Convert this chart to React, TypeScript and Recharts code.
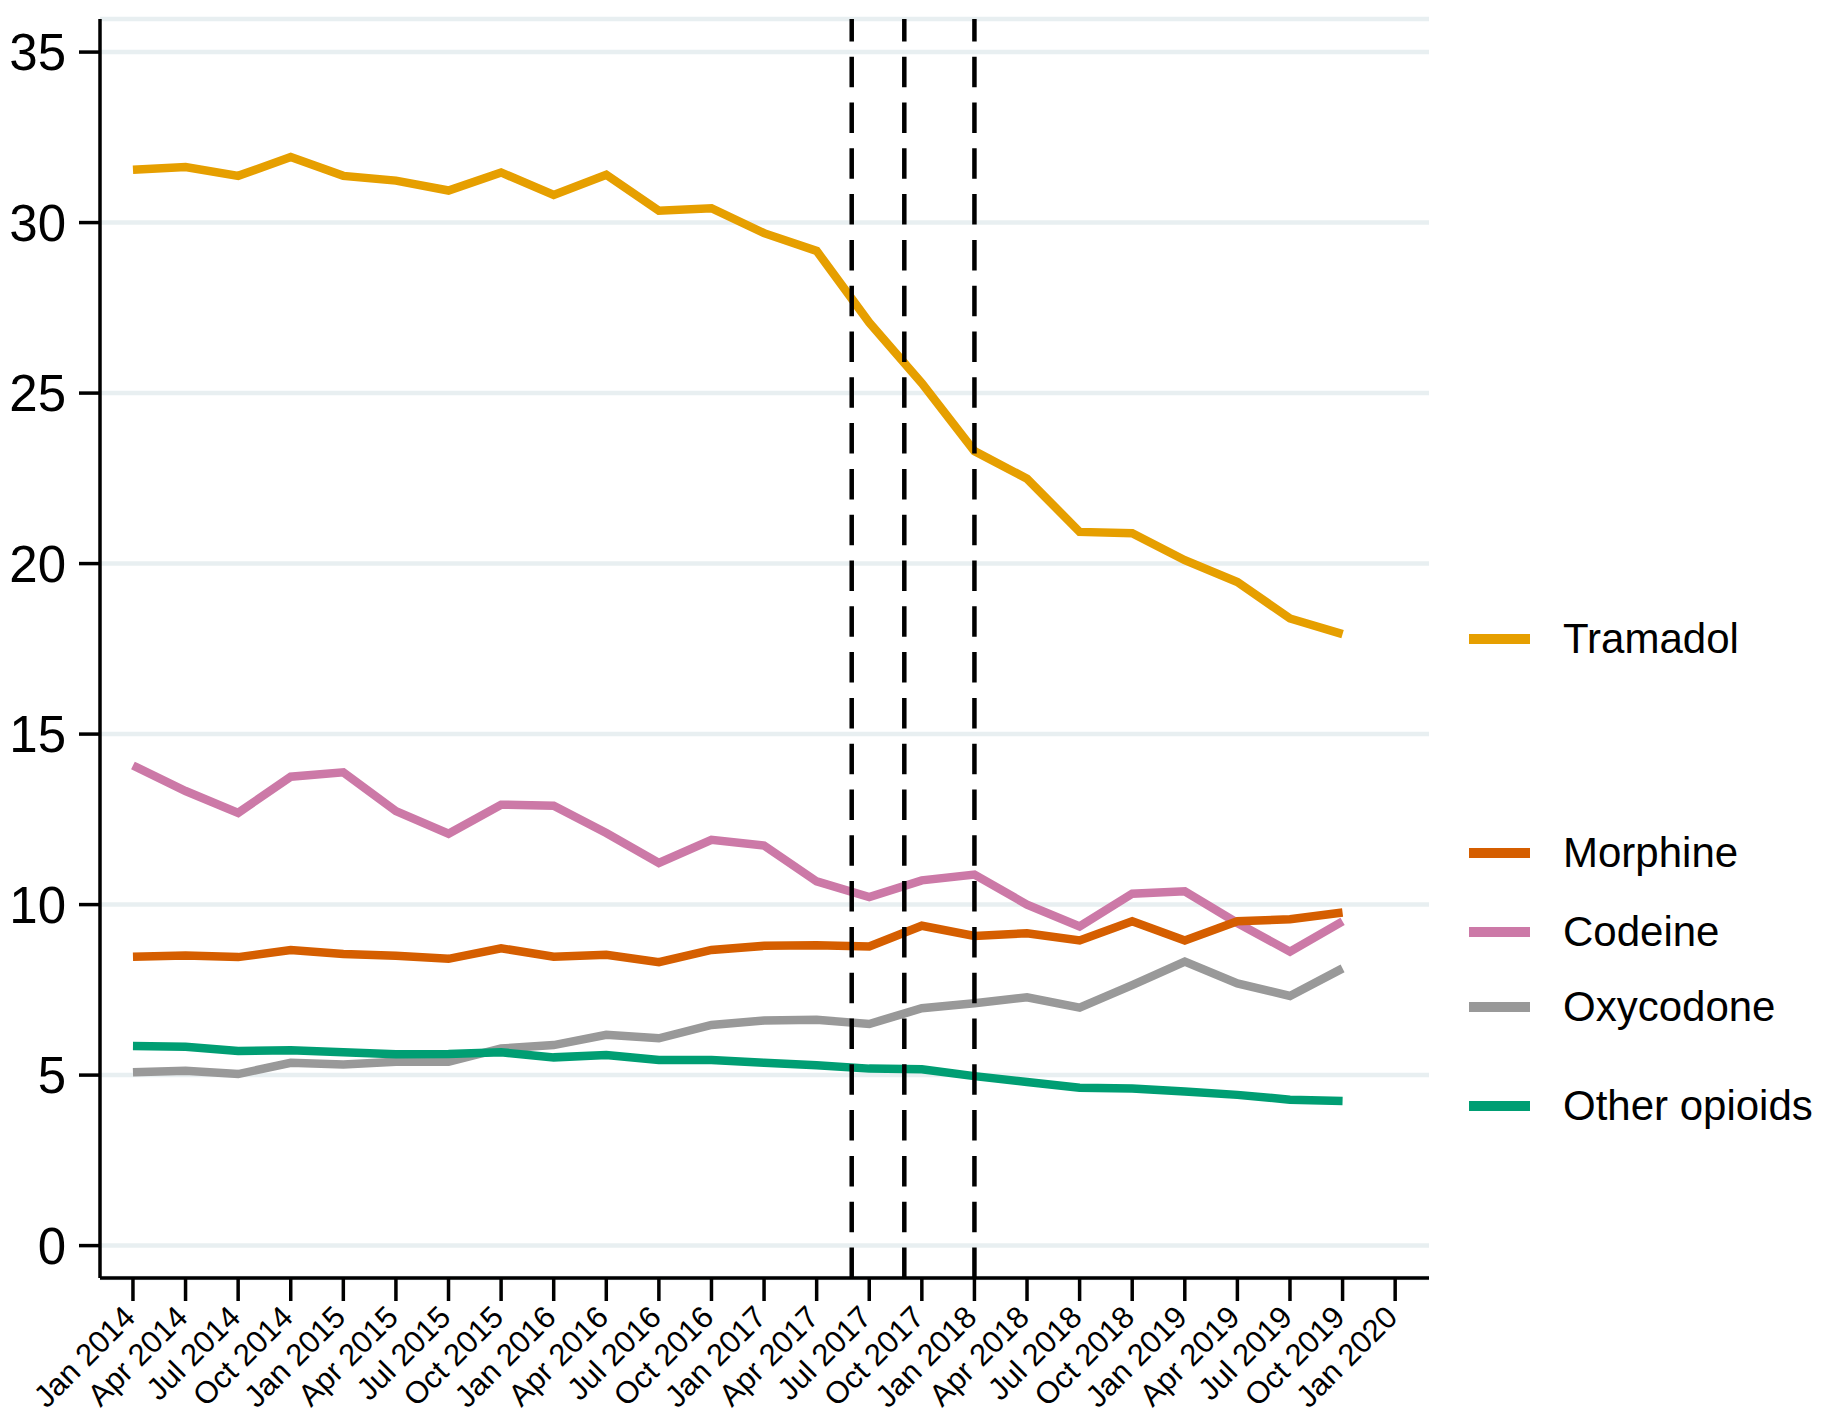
import React from 'react';
import { LineChart, Line, XAxis, YAxis, CartesianGrid, ReferenceLine, Legend } from 'recharts';

const quarters = [
  'Jan 2014', 'Apr 2014', 'Jul 2014', 'Oct 2014', 'Jan 2015', 'Apr 2015', 'Jul 2015', 'Oct 2015',
  'Jan 2016', 'Apr 2016', 'Jul 2016', 'Oct 2016', 'Jan 2017', 'Apr 2017', 'Jul 2017', 'Oct 2017',
  'Jan 2018', 'Apr 2018', 'Jul 2018', 'Oct 2018', 'Jan 2019', 'Apr 2019', 'Jul 2019', 'Oct 2019',
];
// months since Jan 2014
const monthIndex = [0, 3, 6, 9, 12, 15, 18, 21, 24, 27, 30, 33, 36, 39, 42, 45, 48, 51, 54, 57, 60, 63, 66, 69];

const tramadol = [31.55, 31.63, 31.37, 31.92, 31.37, 31.23, 30.94, 31.47, 30.81, 31.4, 30.35, 30.42, 29.69, 29.17, 27.07, 25.29, 23.3, 22.49, 20.93, 20.89, 20.1, 19.46, 18.39, 17.93];
const morphine = [8.47, 8.51, 8.46, 8.67, 8.55, 8.5, 8.41, 8.72, 8.47, 8.53, 8.31, 8.67, 8.79, 8.81, 8.77, 9.38, 9.08, 9.16, 8.95, 9.51, 8.95, 9.51, 9.57, 9.77];
const codeine = [14.08, 13.33, 12.69, 13.75, 13.88, 12.74, 12.08, 12.93, 12.9, 12.1, 11.22, 11.9, 11.73, 10.68, 10.22, 10.71, 10.88, 10.0, 9.36, 10.32, 10.39, 9.46, 8.62, 9.51];
const oxycodone = [5.08, 5.13, 5.03, 5.36, 5.31, 5.39, 5.39, 5.78, 5.88, 6.18, 6.08, 6.47, 6.6, 6.62, 6.5, 6.96, 7.11, 7.28, 6.98, 7.64, 8.33, 7.69, 7.32, 8.13];
const otherOpioids = [5.85, 5.83, 5.71, 5.73, 5.67, 5.61, 5.62, 5.67, 5.52, 5.59, 5.44, 5.44, 5.36, 5.29, 5.19, 5.17, 4.97, 4.8, 4.63, 4.61, 4.52, 4.42, 4.28, 4.24];

const tickMonths = [0, 3, 6, 9, 12, 15, 18, 21, 24, 27, 30, 33, 36, 39, 42, 45, 48, 51, 54, 57, 60, 63, 66, 69, 72];
const tickLabels = [
  'Jan 2014', 'Apr 2014', 'Jul 2014', 'Oct 2014', 'Jan 2015', 'Apr 2015', 'Jul 2015', 'Oct 2015',
  'Jan 2016', 'Apr 2016', 'Jul 2016', 'Oct 2016', 'Jan 2017', 'Apr 2017', 'Jul 2017', 'Oct 2017',
  'Jan 2018', 'Apr 2018', 'Jul 2018', 'Oct 2018', 'Jan 2019', 'Apr 2019', 'Jul 2019', 'Oct 2019', 'Jan 2020',
];
const yTicks = [0, 5, 10, 15, 20, 25, 30, 35];
// policy change dates (months since Jan 2014): Jun 2017, Sep 2017, Jan 2018
const policyMonths = [41, 44, 48];

const data = quarters.map((q, i) => ({
  quarter: q,
  month: monthIndex[i],
  Tramadol: tramadol[i],
  Morphine: morphine[i],
  Codeine: codeine[i],
  Oxycodone: oxycodone[i],
  'Other opioids': otherOpioids[i],
}));

const FONT = "'Liberation Sans', Arial, Helvetica, sans-serif";
const W = 1832;
const H = 1418;

const legendY: Record<string, number> = {
  Tramadol: 639,
  Morphine: 853,
  Codeine: 932,
  Oxycodone: 1007,
  'Other opioids': 1106,
};

const XTick = (props: any) => {
  const { x, y, payload } = props;
  const idx = tickMonths.indexOf(payload.value);
  const label = idx >= 0 ? tickLabels[idx] : '';
  const tx = x + 4;
  const ty = y + 18;
  return (
    <text
      x={tx}
      y={ty}
      transform={`rotate(-45 ${tx} ${ty})`}
      textAnchor="end"
      fontSize={31}
      fontFamily={FONT}
      fill="#000"
    >
      {label}
    </text>
  );
};

const renderLegend = (props: any) => {
  const { payload } = props;
  return (
    <div style={{ position: 'relative', width: W, height: H, pointerEvents: 'none' }}>
      {(payload || []).map((p: any) => {
        const cy = legendY[p.value] ?? 0;
        return (
          <React.Fragment key={p.value}>
            <div
              style={{
                position: 'absolute',
                left: 1469,
                top: cy - 5,
                width: 61,
                height: 10,
                background: p.color,
              }}
            />
            <div
              style={{
                position: 'absolute',
                left: 1563,
                top: cy - 25,
                height: 50,
                lineHeight: '50px',
                fontSize: 42,
                fontFamily: FONT,
                color: '#000',
                whiteSpace: 'nowrap',
              }}
            >
              {p.value}
            </div>
          </React.Fragment>
        );
      })}
    </div>
  );
};

const series = [
  { key: 'Tramadol', color: '#E69F00' },
  { key: 'Codeine', color: '#CC79A7' },
  { key: 'Morphine', color: '#D55E00' },
  { key: 'Oxycodone', color: '#999999' },
  { key: 'Other opioids', color: '#009E73' },
];

export default function App() {
  return (
    <div style={{ margin: -8, width: W, height: H, background: '#fff', overflow: 'hidden' }}>
      <LineChart
        width={W}
        height={H}
        data={data}
        margin={{ top: 19, right: 403, bottom: 0, left: 0 }}
      >
        <CartesianGrid horizontal vertical={false} stroke="#e8eff1" strokeWidth={4.5} />
        <XAxis
          dataKey="month"
          type="number"
          domain={[-1.88, 73.93]}
          ticks={tickMonths}
          allowDataOverflow
          interval={0}
          height={140}
          tickSize={23}
          tickMargin={0}
          tick={<XTick />}
          tickLine={{ stroke: '#000', strokeWidth: 3.5 }}
          axisLine={{ stroke: '#000', strokeWidth: 3.5 }}
        />
        <YAxis
          type="number"
          domain={[-0.95, 35.97]}
          ticks={yTicks}
          allowDataOverflow
          interval={0}
          width={100}
          tickSize={21}
          tickMargin={13}
          tick={{ fontSize: 51, fill: '#000', fontFamily: FONT }}
          tickLine={{ stroke: '#000', strokeWidth: 3.5 }}
          axisLine={{ stroke: '#000', strokeWidth: 3.5 }}
        />
        {series.map((s) => (
          <Line
            key={s.key}
            type="linear"
            dataKey={s.key}
            name={s.key}
            stroke={s.color}
            strokeWidth={8.5}
            dot={false}
            activeDot={false}
            isAnimationActive={false}
          />
        ))}
        {policyMonths.map((m) => (
          <ReferenceLine
            key={m}
            x={m}
            stroke="#000"
            strokeWidth={4.5}
            strokeDasharray="30.5 15.3"
          />
        ))}
        <Legend
          layout="vertical"
          align="center"
          verticalAlign="middle"
          wrapperStyle={{ left: 0, top: 0, width: W, height: H }}
          content={renderLegend}
        />
      </LineChart>
    </div>
  );
}
